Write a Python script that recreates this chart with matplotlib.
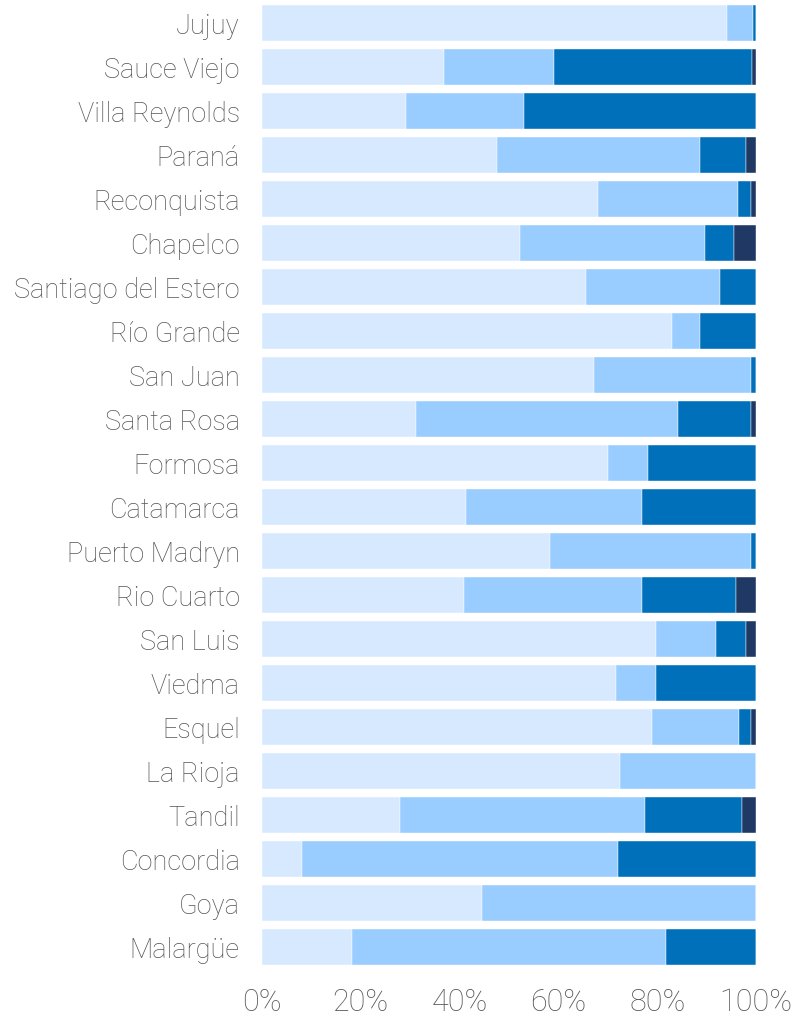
import matplotlib.pyplot as plt
import numpy as np
from matplotlib.ticker import PercentFormatter

# categories, top to bottom
stations = ['Jujuy', 'Sauce Viejo', 'Villa Reynolds', 'Paraná', 'Reconquista',
            'Chapelco', 'Santiago del Estero', 'Río Grande', 'San Juan',
            'Santa Rosa', 'Formosa', 'Catamarca', 'Puerto Madryn', 'Rio Cuarto',
            'San Luis', 'Viedma', 'Esquel', 'La Rioja', 'Tandil', 'Concordia',
            'Goya', 'Malargüe']

# shares (%) for the four segments
seg1 = [94.1, 36.8, 29.1, 47.6, 68.0, 52.2, 65.6, 83.0, 67.2, 31.2, 70.0,
        41.3, 58.3, 40.9, 79.8, 71.7, 78.9, 72.5, 27.9, 8.1, 44.5, 18.2]
seg2 = [5.2, 22.3, 23.9, 41.1, 28.4, 37.4, 27.1, 5.7, 31.7, 53.1, 8.2,
        35.7, 40.6, 36.1, 12.1, 8.1, 17.6, 27.5, 49.6, 64.0, 55.5, 63.6]
seg3 = [0.7, 40.0, 47.0, 9.3, 2.5, 6.0, 7.3, 11.3, 1.1, 14.6, 21.8,
        23.0, 1.1, 19.0, 6.1, 20.2, 2.4, 0.0, 19.7, 27.9, 0.0, 18.2]
seg4 = [0.0, 0.9, 0.0, 2.0, 1.1, 4.4, 0.0, 0.0, 0.0, 1.1, 0.0,
        0.0, 0.0, 4.0, 2.0, 0.0, 1.1, 0.0, 2.8, 0.0, 0.0, 0.0]

colors = ['#d6e9ff', '#99ccff', '#0070bb', '#1f3864']
textColor = '#555555'

fig = plt.figure(figsize=(7.95, 10.2), dpi=100)
ax = fig.add_axes([262 / 795, 1 - 970 / 1020, (756 - 262) / 795, 968 / 1020])

y = np.arange(len(stations))
left = np.zeros(len(stations))
for seg, col in zip([seg1, seg2, seg3, seg4], colors):
    vals = np.array(seg)
    ax.barh(y, vals, left=left, height=0.82, color=col,
            edgecolor='white', linewidth=0.3)
    left += vals

ax.set_ylim(len(stations) - 0.5, -0.5)
ax.set_xlim(0, 100)
ax.set_yticks(y)
ax.set_yticklabels(stations, fontsize=19.5, color=textColor,
                   family='Roboto', fontweight='light')
ax.set_xticks(np.arange(0, 101, 20))
ax.xaxis.set_major_formatter(PercentFormatter(decimals=0))
for lbl in ax.get_xticklabels():
    lbl.set_fontsize(22)
    lbl.set_color(textColor)
    lbl.set_family('Roboto')
    lbl.set_fontweight('light')
ax.tick_params(axis='both', length=0)
ax.tick_params(axis='y', pad=16)
ax.tick_params(axis='x', pad=13)
for s in ax.spines.values():
    s.set_visible(False)

fig.savefig('out.png', dpi=100)
